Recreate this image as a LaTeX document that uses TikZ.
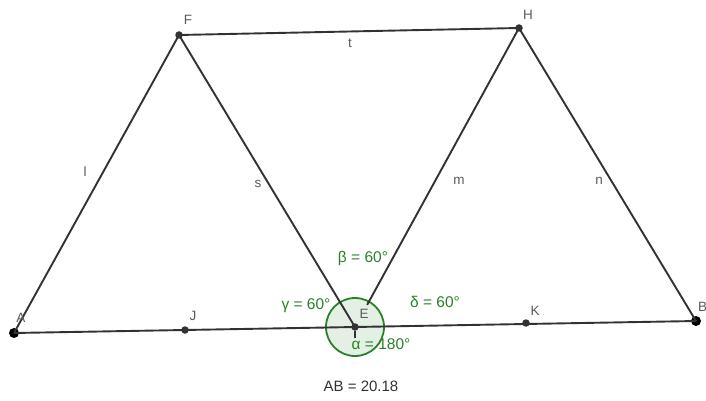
\documentclass[tikz,border=0pt]{standalone}
\usepackage{fontspec}
\setmainfont{Liberation Sans}
\usetikzlibrary{calc}
\definecolor{seg}{RGB}{50,50,50}
\definecolor{lab}{RGB}{90,90,90}
\definecolor{ang}{RGB}{40,130,40}
\begin{document}
\begin{tikzpicture}[x=1pt,y=-1pt,
  segline/.style={draw=seg,line width=1.9pt},
  ptbig/.style={circle,fill=black,inner sep=0pt,minimum size=10pt},
  ptsmall/.style={circle,fill=seg,inner sep=0pt,minimum size=7.5pt},
  lbl/.style={text=lab,font=\fontsize{13.5}{13.5}\selectfont,inner sep=0pt},
  anglbl/.style={text=ang,font=\fontsize{15.5}{15.5}\selectfont,inner sep=0pt}]
\useasboundingbox (0,0) rectangle (706,401);
% angle circle
\coordinate (E) at (355,327);
\fill[ang!60!white,opacity=0.2] (E) circle (29);
\draw[ang,line width=1.8pt] (E) circle (29);
% points
\node[ptbig] (A) at (14,333) {};
\node[ptbig] (B) at (696,321) {};
\node[ptsmall] (F) at (179,35) {};
\node[ptsmall] (H) at (519,28) {};
\node[ptsmall] (Ep) at (355,327) {};
\node[ptsmall] (J) at (185,330) {};
\node[ptsmall] (K) at (526,323) {};
% segments
\draw[segline] (A.center) -- (B.center);
\draw[segline] (A.center) -- (F.center);
\draw[segline] (F.center) -- (H.center);
\draw[segline] (F.center) -- (Ep.center);
\coordinate (Mend) at ($(H.center)!0.926!(Ep.center)$);
\draw[segline] (H.center) -- (Mend);
\draw[segline] (H.center) -- (B.center);
\draw[seg,line width=1.2pt] (355,331) -- (355,338);
% point labels
\node[lbl] (lA) at (21,318) {A};
\node[lbl,anchor=west] (lB) at (698,307) {B};
\node[lbl] (lF) at (188,20) {F};
\node[lbl] (lH) at (528,15) {H};
\node[lbl] (lJ) at (193,316) {J};
\node[lbl] (lK) at (535,311) {K};
\node[lbl] (lE) at (364,314) {E};
% segment labels
\node[lbl] (ll) at (85,172) {l};
\node[lbl] (ls) at (258,184) {s};
\node[lbl] (lm) at (459,181) {m};
\node[lbl] (ln) at (599,181) {n};
\node[lbl] (lt) at (350,43) {t};
% angle labels
\node[anglbl] (lb) at (363,258) {β = 60°};
\node[anglbl] (lg) at (306,306) {γ = 60°};
\node[anglbl] (ld) at (435,302) {δ = 60°};
\node[anglbl] (la) at (381,344) {α = 180°};
% measurement
\node[lbl,font=\fontsize{15}{15}\selectfont,text=seg] (ab) at (361,386) {AB = 20.18};
\end{tikzpicture}
\end{document}
